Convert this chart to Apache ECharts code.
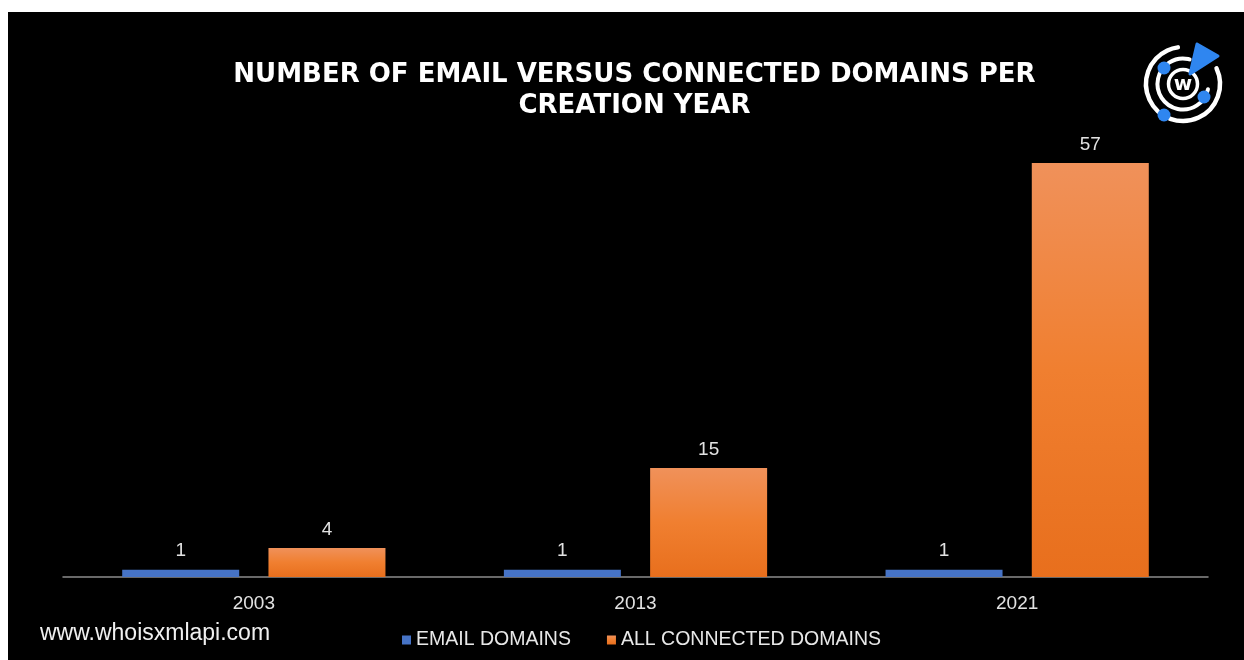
<!DOCTYPE html>
<html>
<head>
<meta charset="utf-8">
<script src="https://cdn.jsdelivr.net/npm/echarts@6/dist/echarts.min.js"></script>
<style>
  html, body { margin: 0; padding: 0; background: #ffffff; width: 1244px; height: 660px; overflow: hidden; }
  #chart { position: absolute; left: 8px; top: 12px; width: 1236px; height: 648px; background: #000; }
</style>
</head>
<body>
<div id="chart"></div>
<script>
const titleLines = ['NUMBER OF EMAIL VERSUS CONNECTED DOMAINS PER', 'CREATION YEAR'];
const categories = ['2003', '2013', '2021'];
const seriesNames = ['EMAIL DOMAINS', 'ALL CONNECTED DOMAINS'];
const emailDomains = [1, 1, 1];
const connectedDomains = [4, 15, 57];
const watermark = 'www.whoisxmlapi.com';

const chart = echarts.init(document.getElementById('chart'), null, { renderer: 'canvas' });

const labelStyle = {
  show: true, position: 'top', distance: 9,
  color: '#e2e2e2', fontSize: 19, fontFamily: 'Liberation Sans'
};

const cx = 1175, cy = 72;
const deg = d => d * Math.PI / 180;

chart.setOption({
  backgroundColor: '#000',
  animation: false,
  grid: { left: 55, right: 36, top: 151, bottom: 83 },
  xAxis: {
    type: 'category',
    data: categories,
    axisLine: { lineStyle: { color: '#8c8c8c', width: 1.5 } },
    axisTick: { show: false },
    axisLabel: { color: '#e2e2e2', fontSize: 19, fontFamily: 'Liberation Sans', margin: 17 }
  },
  yAxis: {
    type: 'value', min: 0, max: 57,
    show: false, splitLine: { show: false }
  },
  legend: {
    left: 389, top: 613,
    icon: 'rect', itemWidth: 9, itemHeight: 9, itemGap: 36,
    textStyle: { color: '#e8e8e8', fontSize: 19.5, fontFamily: 'Liberation Sans' },
    data: seriesNames
  },
  series: [
    {
      name: seriesNames[0], type: 'bar', data: emailDomains,
      barWidth: 117, barGap: '25%',
      itemStyle: { color: '#4673c6' },
      label: labelStyle
    },
    {
      name: seriesNames[1], type: 'bar', data: connectedDomains,
      barWidth: 117,
      itemStyle: {
        color: new echarts.graphic.LinearGradient(0, 0, 0, 1, [
          { offset: 0, color: '#f0915a' },
          { offset: 0.5, color: '#f07f30' },
          { offset: 1, color: '#e86f1d' }
        ])
      },
      label: labelStyle
    }
  ],
  graphic: [
    { type: 'text', x: 626.5, y: 63, style: { text: titleLines[0], fill: '#ffffff', font: 'bold 26px "DejaVu Sans"', textAlign: 'center', textVerticalAlign: 'middle' } },
    { type: 'text', x: 626.5, y: 94, style: { text: titleLines[1], fill: '#ffffff', font: 'bold 26px "DejaVu Sans"', textAlign: 'center', textVerticalAlign: 'middle' } },
    { type: 'text', x: 32, y: 622, style: { text: watermark, fill: '#f0f0f0', font: '23px "Liberation Sans"', textAlign: 'left', textVerticalAlign: 'middle' } },
    // logo
    { type: 'arc', shape: { cx: cx, cy: cy, r: 37, startAngle: deg(-25), endAngle: deg(262), clockwise: true }, style: { stroke: '#ffffff', lineWidth: 4.5, fill: null, lineCap: 'round' } },
    { type: 'arc', shape: { cx: cx, cy: cy, r: 25.5, startAngle: deg(12), endAngle: deg(285), clockwise: true }, style: { stroke: '#ffffff', lineWidth: 4, fill: null, lineCap: 'round' } },
    { type: 'circle', shape: { cx: cx, cy: cy, r: 14.5 }, style: { stroke: '#ffffff', lineWidth: 3.5, fill: '#000' } },
    { type: 'text', x: cx, y: cy + 1, style: { text: 'w', fill: '#ffffff', font: 'bold 20px "DejaVu Sans"', textAlign: 'center', textVerticalAlign: 'middle' } },
    { type: 'circle', shape: { cx: 1156, cy: 56, r: 6.5 }, style: { fill: '#2f86f0' } },
    { type: 'circle', shape: { cx: 1196, cy: 85, r: 6.5 }, style: { fill: '#2f86f0' } },
    { type: 'circle', shape: { cx: 1156, cy: 103, r: 6.5 }, style: { fill: '#2f86f0' } },
    { type: 'polygon', shape: { points: [[1189, 32], [1210, 44], [1182, 62]] }, style: { fill: '#2f86f0', lineJoin: 'round', stroke: '#2f86f0', lineWidth: 3 } }
  ]
});
</script>
</body>
</html>
